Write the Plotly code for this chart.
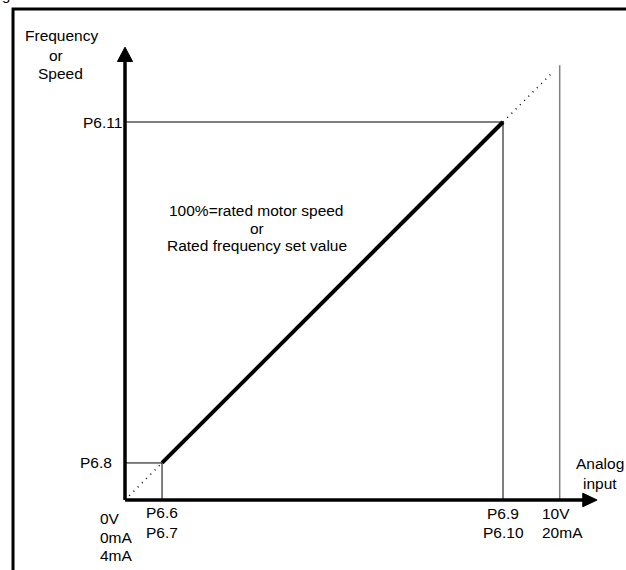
import plotly.graph_objects as go

# ---- data (percent of full scale) ----
input_labels = [["0V", "0mA", "4mA"], ["P6.6", "P6.7"], ["P6.9", "P6.10"], ["10V", "20mA"]]
input_values = [0, 9.8, 100, 115]          # analog input positions
output_labels = ["P6.8", "P6.11"]
output_values = [9.8, 100]                 # frequency / speed levels
curve_x = [9.8, 100]
curve_y = [9.8, 100]
ext_low_x = [0, 9.8]
ext_low_y = [0, 9.8]
ext_high_x = [100, 113.2]
ext_high_y = [100, 113.2]
x_axis_tip = 124.9
y_axis_tip = 119.8
arrow_len = 3.8
arrow_half = 2.0

# pixel mapping (layout only)
W, H = 626, 570
OX, OY, S = 125, 500, 3.78
xr = [-OX / S, (W - OX) / S]
yr = [(OY - H) / S, OY / S]

FONT = "Liberation Sans, Arial, sans-serif"
FS = 15.5

fig = go.Figure()

def line(x, y, width, color="black", dash="solid"):
    fig.add_trace(go.Scatter(x=x, y=y, mode="lines",
                             line=dict(color=color, width=width, dash=dash),
                             hoverinfo="skip", showlegend=False))

# thin guide lines
line([0, input_values[1], input_values[1]], [output_values[0], output_values[0], 0], 1)
line([0, input_values[2], input_values[2]], [output_values[1], output_values[1], 0], 1)
line([input_values[3], input_values[3]], [0, input_values[3]], 1.5, color="#7f7f7f")

# dotted extensions
line(ext_low_x, ext_low_y, 1.5, dash="1px,5px")
line(ext_high_x, ext_high_y, 1.5, dash="1px,5px")

# main characteristic
line(curve_x, curve_y, 4)

# axes
line([0, x_axis_tip - arrow_len + 0.3], [0, 0], 3.5)
line([0, 0], [0, y_axis_tip - arrow_len + 0.3], 3.5)

# arrowheads
fig.add_trace(go.Scatter(
    x=[x_axis_tip, x_axis_tip - arrow_len, x_axis_tip - arrow_len, x_axis_tip],
    y=[0, arrow_half * 0.9, -arrow_half * 0.9, 0],
    fill="toself", fillcolor="black", mode="lines",
    line=dict(color="black", width=1), hoverinfo="skip", showlegend=False))
fig.add_trace(go.Scatter(
    x=[0, arrow_half, -arrow_half, 0],
    y=[y_axis_tip, y_axis_tip - arrow_len, y_axis_tip - arrow_len, y_axis_tip],
    fill="toself", fillcolor="black", mode="lines",
    line=dict(color="black", width=1), hoverinfo="skip", showlegend=False))

ann = []
def text(t, x, y, xanchor="center", xshift=0, yshift=0):
    ann.append(dict(text=t, x=x, y=y, xref="x", yref="y", showarrow=False,
                    xanchor=xanchor, yanchor="middle",
                    xshift=xshift, yshift=yshift,
                    font=dict(family=FONT, size=FS, color="black")))

# axis titles (pixel offsets relative to anchors)
for t, dx, py in [("Frequency", -64, 35), ("or", -69, 55), ("Speed", -65, 73)]:
    text(t, 0, 0, xshift=dx, yshift=OY - py)
for t, py in [("Analog", 463), ("input", 483)]:
    text(t, x_axis_tip, 0, xshift=3, yshift=OY - py)

# y labels
text(output_labels[1], 0, output_values[1], xanchor="right", xshift=-1)
text(output_labels[0], 0, output_values[0], xanchor="right", xshift=-11)

# x labels
rows = [[518, 537, 555], [512, 532], [513, 532], [513, 532]]
anchors = [("left", -27), ("center", 0), ("center", 0), ("left", -20)]
for labels, ys, (xa, dx), xv in zip(input_labels, rows, anchors, input_values):
    for t, py in zip(labels, ys):
        text(t, xv, 0, xanchor=xa, xshift=dx, yshift=OY - py)

# note
for t, py in [("100%=rated motor speed", 210), ("or", 228), ("Rated frequency set value", 245)]:
    text(t, input_values[2] * 0.348, 0, yshift=OY - py)

# partial caption glyph at top-left
ann.append(dict(text="g", xref="paper", yref="paper", x=0.0, y=1.0, xanchor="left",
                yanchor="bottom", yshift=-5, showarrow=False,
                font=dict(family=FONT, size=15, color="black")))

fig.update_layout(
    width=W, height=H,
    margin=dict(l=0, r=0, t=0, b=0),
    paper_bgcolor="white", plot_bgcolor="white",
    xaxis=dict(range=xr, visible=False, fixedrange=True),
    yaxis=dict(range=yr, visible=False, fixedrange=True),
    annotations=ann,
    shapes=[dict(type="path", xref="paper", yref="paper",
                 path="M 0.0208,-0.01 L 0.0208,0.9842 L 1.01,0.9842",
                 line=dict(color="black", width=3))],
)

fig.write_html("out.html", config={"displayModeBar": False},
               post_script="document.body.style.margin='0';document.body.style.overflow='hidden';")
